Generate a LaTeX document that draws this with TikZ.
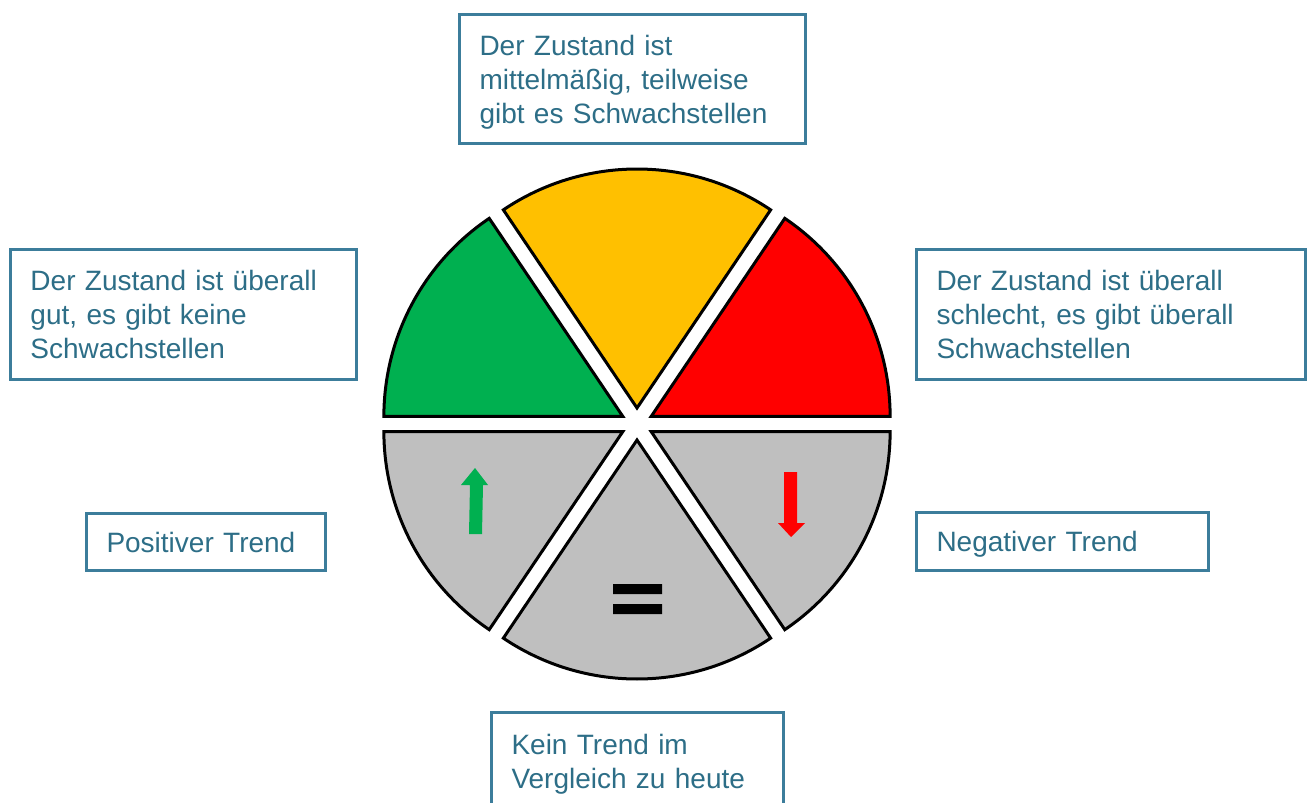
\documentclass[tikz,border=0pt]{standalone}
\usepackage{fontspec}
\setmainfont{Liberation Sans}
\definecolor{zgreen}{RGB}{0,176,80}
\definecolor{zyellow}{RGB}{255,192,0}
\definecolor{zred}{RGB}{255,0,0}
\definecolor{zgray}{RGB}{191,191,191}
\definecolor{boxcol}{RGB}{60,125,155}
\definecolor{textcol}{RGB}{45,110,135}
\tikzset{
  sector/.style={draw=black, line width=3pt, line join=miter},
  infobox/.style={draw=boxcol, line width=3pt, text=textcol, fill=white,
    font=\fontsize{28}{34}\selectfont, align=left, inner xsep=20pt, inner ysep=0pt}
}
\begin{document}
\begin{tikzpicture}[x=1pt,y=-1pt]
\useasboundingbox (0,0) rectangle (1309,803);
\clip (0,0) rectangle (1309,803);
\begin{scope}[shift={(637,424)}, yscale=-1]
\foreach \a/\b/\c in {124/180/zgreen, 56/124/zyellow, 0/56/zred, -56/0/zgray, -124/-56/zgray, 180/236/zgray}{
  \pgfmathsetmacro\m{(\a+\b)/2}
  \draw[sector, fill=\c, shift={(\m:16)}] (0,0) -- (\a:239) arc[start angle=\a, end angle=\b, radius=239] -- cycle;
}
\end{scope}
\fill[zgreen] (469,534) -- (470,485) -- (461,485) -- (475,468) -- (488,485) -- (483,485) -- (482,534) -- cycle;
\fill[zred] (784,472) -- (797,472) -- (797,523) -- (805,523) -- (791,537) -- (778,523) -- (784,523) -- cycle;
\fill[black] (613,584) rectangle (662,594) (613,604) rectangle (662,614);
\node[infobox, minimum width=346, minimum height=129, text width=306] (boxMittel) at (632.5,79) {Der Zustand ist\\mittelmäßig, teilweise\\\smash{gibt es Schwachstellen}};
\node[infobox, minimum width=346, minimum height=130, text width=306] (boxGut) at (183.5,314.5) {Der Zustand ist überall\\gut, es gibt keine\\Schwachstellen};
\node[infobox, minimum width=389, minimum height=130, text width=349] (boxSchlecht) at (1111,314.5) {Der Zustand ist überall\\schlecht, es gibt überall\\Schwachstellen};
\node[infobox, minimum width=239, minimum height=57, text width=199] (boxPositiv) at (206,542) {Positiver Trend};
\node[infobox, minimum width=292, minimum height=58, text width=252, text depth=0pt] (boxNegativ) at (1062.5,541.5) {Negativer Trend};
\node[infobox, minimum width=292, minimum height=97, text width=252] (boxKein) at (637.5,761) {Kein Trend im\\\smash{Vergleich zu heute}};
\end{tikzpicture}
\end{document}
